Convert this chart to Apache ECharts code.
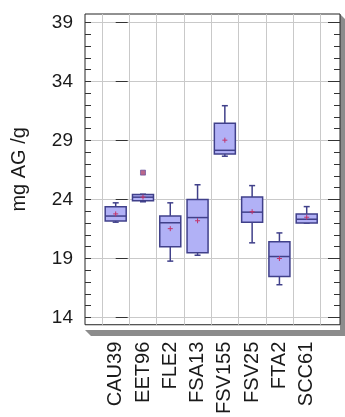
<!DOCTYPE html>
<html>
<head>
<meta charset="utf-8">
<script src="https://cdn.jsdelivr.net/npm/echarts@6/dist/echarts.min.js"></script>
<style>
  html, body { margin: 0; padding: 0; background: #fff; }
  #chart { width: 345px; height: 417px; }
</style>
</head>
<body>
<div id="chart"></div>
<script>
// Extract yield per strain (mg AG /g): box = quartiles, whiskers, mean (+) and outliers
var categories = ['CAU39', 'EET96', 'FLE2', 'FSA13', 'FSV155', 'FSV25', 'FTA2', 'SCC61'];
var lowWhisker  = [22.08, 23.81, 18.78, 19.28, 27.67, 20.33, 16.78, 22.00];
var q1          = [22.18, 23.89, 20.00, 19.50, 27.85, 22.08, 17.47, 22.00];
var median      = [22.60, 24.20, 22.03, 22.47, 28.17, 22.93, 19.17, 22.33];
var q3          = [23.39, 24.42, 22.61, 24.00, 30.47, 24.22, 20.42, 22.78];
var highWhisker = [23.72, 24.45, 23.72, 25.25, 31.95, 25.18, 21.17, 23.40];
var means       = [22.78, 24.20, 21.53, 22.20, 29.03, 22.97, 19.00, 22.50];
var outliers    = [[1, 26.28]];
var yTicks      = [14, 19, 24, 29, 34, 39];
var yMinorTicks = [];
for (var t = 14; t <= 39; t++) yMinorTicks.push(t);

var FONT = 'Liberation Sans, Arial, sans-serif';
var BOX_FILL = '#b1b1f6';
var BOX_LINE = '#40408a';
var MEAN_COLOR = '#c3336a';

var G = { left: 85, top: 14, width: 255, height: 316, depth: 6 };

var xCenters = categories.map(function (c, i) { return i; });
var xBounds = [];
for (var b = -0.5; b <= categories.length - 0.5; b++) xBounds.push(b);

var boxData = categories.map(function (c, i) {
  return [i, lowWhisker[i], q1[i], median[i], q3[i], highWhisker[i]];
});
var meanData = categories.map(function (c, i) { return [i, means[i]]; });

function renderBox(params, api) {
  var x = api.value(0);
  var half = api.size([0.77, 0])[0] / 2;
  var cap = api.size([0.22, 0])[0] / 2;
  var pLo = api.coord([x, api.value(1)]);
  var pQ1 = api.coord([x, api.value(2)]);
  var pMd = api.coord([x, api.value(3)]);
  var pQ3 = api.coord([x, api.value(4)]);
  var pHi = api.coord([x, api.value(5)]);
  var cx = pMd[0];
  var line = { stroke: BOX_LINE, lineWidth: 1.5 };
  var kids = [
    { type: 'line', shape: { x1: cx, y1: pQ3[1], x2: cx, y2: pHi[1] }, style: line },
    { type: 'line', shape: { x1: cx - cap, y1: pHi[1], x2: cx + cap, y2: pHi[1] }, style: line },
    { type: 'line', shape: { x1: cx, y1: pQ1[1], x2: cx, y2: pLo[1] }, style: line },
    { type: 'line', shape: { x1: cx - cap, y1: pLo[1], x2: cx + cap, y2: pLo[1] }, style: line },
    { type: 'rect', shape: { x: cx - half, y: pQ3[1], width: half * 2, height: pQ1[1] - pQ3[1] },
      style: { fill: BOX_FILL, stroke: BOX_LINE, lineWidth: 1.5 } },
    { type: 'line', shape: { x1: cx - half, y1: pMd[1], x2: cx + half, y2: pMd[1] }, style: line }
  ];
  return { type: 'group', children: kids };
}

function renderMean(params, api) {
  var p = api.coord([api.value(0), api.value(1)]);
  var s = 2.5;
  var st = { stroke: MEAN_COLOR, lineWidth: 1 };
  return { type: 'group', children: [
    { type: 'line', shape: { x1: p[0] - s, y1: p[1], x2: p[0] + s, y2: p[1] }, style: st },
    { type: 'line', shape: { x1: p[0], y1: p[1] - s, x2: p[0], y2: p[1] + s }, style: st }
  ] };
}

var chart = echarts.init(document.getElementById('chart'), null, { renderer: 'canvas' });

var gx0 = G.left, gy0 = G.top, gx1 = G.left + G.width, gy1 = G.top + G.height, d = G.depth;

chart.setOption({
  backgroundColor: '#fff',
  animation: false,
  textStyle: { fontFamily: FONT },
  graphic: [{
    type: 'polygon', z: -1, silent: true,
    shape: { points: [[gx1, gy0], [gx1 + d, gy0 + d], [gx1 + d, gy1 + d], [gx0 + d, gy1 + d], [gx0, gy1], [gx1, gy1]] },
    style: { fill: '#8c8c8c' }
  }],
  grid: {
    left: G.left, top: G.top, width: G.width, height: G.height,
    show: true, backgroundColor: '#fff', borderColor: '#222', borderWidth: 1, z: 0
  },
  xAxis: {
    type: 'value', min: -1.125, max: 8.22,
    axisLine: { show: false },
    axisTick: { show: false, customValues: xBounds },
    splitLine: { show: true, lineStyle: { color: '#c9c9c9', width: 1 } },
    axisLabel: {
      customValues: xCenters, rotate: 90, margin: 17,
      fontSize: 20, color: '#1a1a1a', fontFamily: FONT,
      formatter: function (v) { return categories[Math.round(v)]; }
    }
  },
  yAxis: [{
    type: 'value', min: 13.39, max: 39.72, position: 'left',
    name: 'mg AG /g', nameLocation: 'middle', nameGap: 56, nameRotate: 90,
    nameTextStyle: { fontSize: 20, color: '#1a1a1a', fontFamily: FONT },
    axisLine: { show: false },
    axisTick: { show: true, inside: true, length: 12, customValues: yTicks, lineStyle: { color: '#333' } },
    axisLabel: { customValues: yTicks, fontSize: 19, color: '#1a1a1a', margin: 12, fontFamily: FONT },
    splitLine: { show: true, lineStyle: { color: '#c9c9c9', width: 1 } }
  }, {
    type: 'value', min: 13.39, max: 39.72, position: 'left',
    axisLine: { show: false },
    axisTick: { show: true, inside: true, length: 6, customValues: yMinorTicks, lineStyle: { color: '#333' } },
    axisLabel: { show: false }, splitLine: { show: false }
  }, {
    type: 'value', min: 13.39, max: 39.72, position: 'right',
    axisLine: { show: false },
    axisTick: { show: true, inside: true, length: 12, customValues: yTicks, lineStyle: { color: '#333' } },
    axisLabel: { show: false }, splitLine: { show: false }
  }, {
    type: 'value', min: 13.39, max: 39.72, position: 'right',
    axisLine: { show: false },
    axisTick: { show: true, inside: true, length: 6, customValues: yMinorTicks, lineStyle: { color: '#333' } },
    axisLabel: { show: false }, splitLine: { show: false }
  }],
  series: [{
    type: 'custom', name: 'box', renderItem: renderBox, data: boxData,
    encode: { x: 0, y: [1, 2, 3, 4, 5] }, z: 3
  }, {
    type: 'custom', name: 'mean', renderItem: renderMean, data: meanData,
    encode: { x: 0, y: 1 }, z: 4
  }, {
    type: 'scatter', name: 'outlier', data: outliers, symbol: 'rect', symbolSize: 5,
    itemStyle: { color: '#a8406e', borderColor: '#5a4a9a', borderWidth: 0.8 }, z: 4
  }]
});
</script>
</body>
</html>
